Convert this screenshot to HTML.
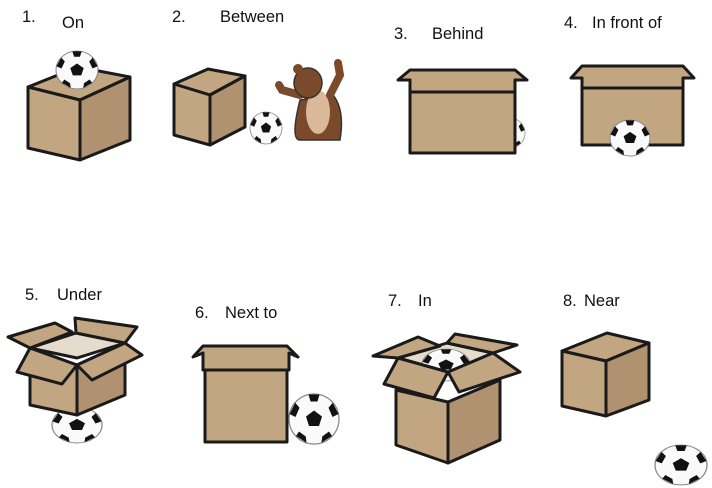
<!DOCTYPE html>
<html><head><meta charset="utf-8"><style>
html,body{margin:0;padding:0;background:#fff;width:712px;height:488px;overflow:hidden}
svg{display:block}
text{font-family:"Liberation Sans",Arial,sans-serif;font-size:16.5px;fill:#111}
.b{fill:#c2a681;stroke:#1a1a1a;stroke-width:3;stroke-linejoin:round}
.bd{fill:#b09270;stroke:#1a1a1a;stroke-width:3;stroke-linejoin:round}
.in{fill:#e6dccd;stroke:#1a1a1a;stroke-width:3;stroke-linejoin:round}
</style></head><body>
<svg width="712" height="488" viewBox="0 0 712 488">
<defs>
<g id="ball">
<circle r="1" fill="#fafafa" stroke="#888" stroke-width="0.05"/>
<polygon points="0,-0.34 0.32,-0.1 0.2,0.28 -0.2,0.28 -0.32,-0.1" fill="#111"/>
<path d="M-0.22,-0.98 L0.22,-0.98 L0.14,-0.7 L-0.14,-0.7Z M0.75,-0.65 L0.98,-0.2 L0.74,-0.08 L0.58,-0.45Z M0.72,0.68 L0.3,0.95 L0.33,0.7 L0.6,0.5Z M-0.72,0.68 L-0.3,0.95 L-0.33,0.7 L-0.6,0.5Z M-0.75,-0.65 L-0.98,-0.2 L-0.74,-0.08 L-0.58,-0.45Z" fill="#111"/>
</g>
</defs>

<g>
<text x="22" y="22">1.</text>
<text x="62" y="28">On</text>
<polygon class="b" points="28,87 80,100 130,77 78,67"/>
<polygon class="b" points="28,87 80,100 80,160 28,148"/>
<polygon class="bd" points="80,100 130,77 130,140 80,160"/>
<use href="#ball" transform="translate(77,70) scale(21,19)"/>
</g>

<g>
<text x="172" y="22">2.</text>
<text x="220" y="22">Between</text>
<polygon class="b" points="174,84 210,95 245,76 208,69"/>
<polygon class="b" points="174,84 210,95 210,145 174,135"/>
<polygon class="bd" points="210,95 245,76 245,127 210,145"/>
<use href="#ball" transform="translate(266,128) scale(16)"/>
<g>
<path d="M300,100 Q290,140 300,140 L340,140 Q345,110 333,95 Z" fill="#7a4a2a" stroke="#333" stroke-width="1.5"/>
<ellipse cx="318" cy="112" rx="12" ry="22" fill="#d9b999"/>
<path d="M300,95 L282,90 L279,85" stroke="#7a4a2a" stroke-width="8" fill="none" stroke-linecap="round"/>
<path d="M330,95 L340,75 L338,63" stroke="#7a4a2a" stroke-width="8" fill="none" stroke-linecap="round"/>
<ellipse cx="308" cy="83" rx="14" ry="15" fill="#7a4a2a" stroke="#333" stroke-width="1.5"/>
<ellipse cx="298" cy="69" rx="5" ry="5" fill="#7a4a2a"/>
</g>
</g>

<g>
<text x="394" y="39">3.</text>
<text x="432" y="39">Behind</text>
<use href="#ball" transform="translate(510,133) scale(15)"/>
<polygon class="b" points="410,80 515,80 515,153 410,153"/>
<polygon class="b" points="398,80 410,70 515,70 527,80 515,80 515,92 410,92 410,80"/>
</g>

<g>
<text x="564" y="28">4.</text>
<text x="592" y="28">In front of</text>
<polygon class="b" points="582,78 683,78 683,145 582,145"/>
<polygon class="b" points="571,78 582,66 683,66 694,78 683,78 683,88 582,88 582,78"/>
<use href="#ball" transform="translate(630,138) scale(20,18)"/>
</g>

<g>
<text x="25" y="300">5.</text>
<text x="57" y="300">Under</text>
<use href="#ball" transform="translate(77,425) scale(25,18)"/>
<polygon class="in" points="30,348 76,333 125,343 77,358"/>
<polygon class="b" points="30,348 77,365 77,415 30,405"/>
<polygon class="bd" points="77,365 125,343 125,395 77,415"/>
<polygon class="b" points="30,348 8,337 55,323 72,332"/>
<polygon class="b" points="76,333 75,318 137,327 125,343"/>
<polygon class="b" points="30,348 17,372 62,384 77,365"/>
<polygon class="b" points="77,365 125,343 142,355 92,380"/>
</g>

<g>
<text x="195" y="318">6.</text>
<text x="225" y="318">Next to</text>
<polygon class="b" points="205,370 287,370 287,442 205,442"/>
<polygon class="b" points="193,357 203,346 287,346 298,357 289,353 289,370 203,370 203,353"/>
<use href="#ball" transform="translate(314,419) scale(25)"/>
</g>

<g>
<text x="388" y="306">7.</text>
<text x="418" y="306">In</text>
<polygon class="in" points="398,358 447,343 493,353 448,372"/>
<use href="#ball" transform="translate(446,365) scale(24,16)"/>
<polygon class="b" points="396,390 448,402 448,463 396,445"/>
<polygon class="bd" points="448,402 500,380 500,440 448,463"/>
<polygon class="b" points="398,358 373,356 418,337 440,346"/>
<polygon class="b" points="447,343 455,334 517,345 493,353"/>
<polygon class="b" points="398,358 384,384 434,398 448,372"/>
<polygon class="b" points="448,372 493,353 520,372 459,392"/>
</g>

<g>
<text x="563" y="306">8.</text>
<text x="584" y="306">Near</text>
<polygon class="b" points="562,351 606,361 649,343 607,333"/>
<polygon class="b" points="562,351 606,361 606,416 562,406"/>
<polygon class="bd" points="606,361 649,343 649,400 606,416"/>
<use href="#ball" transform="translate(681,465) scale(26,20)"/>
</g>
</svg>
</body></html>
